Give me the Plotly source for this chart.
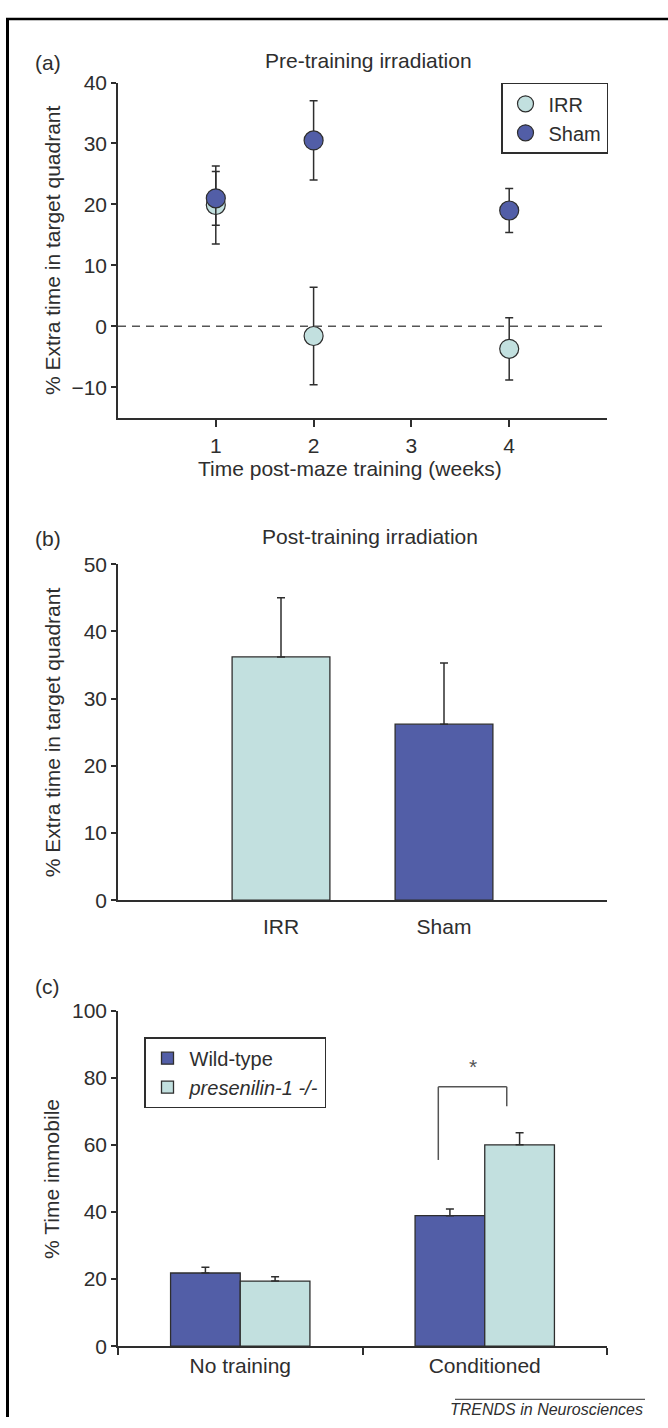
import plotly.graph_objects as go

# ---------------- data ----------------
# Panel (a): pre-training irradiation
weeks = [1, 2, 4]
week_ticks = [1, 2, 3, 4]
irr_mean = [19.9, -1.6, -3.7]
irr_err = [6.4, 8.0, 5.1]
sham_mean = [21.0, 30.5, 19.0]
sham_err = [4.4, 6.5, 3.6]

# Panel (b): post-training irradiation
groups_b = ["IRR", "Sham"]
values_b = [36.2, 26.2]
errors_b = [8.8, 9.1]

# Panel (c): % time immobile
conditions = ["No training", "Conditioned"]
wildtype = [21.8, 38.9]
wildtype_err = [1.7, 2.0]
presenilin = [19.4, 60.0]
presenilin_err = [1.3, 3.6]

# significance bracket (category-index / value units on panel c)
sig_x_left, sig_x_right = 0.81, 1.09
sig_y_top, sig_y_left, sig_y_right = 77.3, 55.5, 71.5
sig_star_x, sig_star_y = 0.95, 83.3

# ---------------- style ----------------
W, H = 668, 1428
LIGHT = "#c2e0df"
DARK = "#525ea7"
INK = "#2e2e2e"
FONT = "Liberation Sans, Arial, sans-serif"
FS = 21
LEG_FS = 20


def px_x(x):
    return x / W


def px_y(y):
    return 1 - y / H


xdom = [px_x(118), px_x(607)]
ydom_a = [px_y(412.3), px_y(71.7)]
ydom_b = [px_y(902.7), px_y(561.3)]
ydom_c = [px_y(1356), px_y(1015)]

fig = go.Figure()

err_style = dict(color=INK, thickness=1.5, width=4)

fig.add_trace(go.Scatter(
    x=weeks, y=irr_mean, mode="markers", name="IRR",
    marker=dict(size=19, color=LIGHT, line=dict(color=INK, width=1.2)),
    error_y=dict(type="data", array=irr_err, **err_style),
    xaxis="x", yaxis="y", legend="legend",
))
fig.add_trace(go.Scatter(
    x=weeks, y=sham_mean, mode="markers", name="Sham",
    marker=dict(size=19, color=DARK, line=dict(color=INK, width=1.2)),
    error_y=dict(type="data", array=sham_err, **err_style),
    xaxis="x", yaxis="y", legend="legend",
))

fig.add_trace(go.Bar(
    x=groups_b, y=values_b, width=0.6,
    marker=dict(color=[LIGHT, DARK], line=dict(color=INK, width=1.3)),
    error_y=dict(type="data", array=errors_b, arrayminus=[0] * len(errors_b),
                 symmetric=False, **err_style),
    xaxis="x2", yaxis="y2", showlegend=False,
))

fig.add_trace(go.Bar(
    x=conditions, y=wildtype, name="Wild-type",
    marker=dict(color=DARK, line=dict(color=INK, width=1.3)),
    error_y=dict(type="data", array=wildtype_err, arrayminus=[0] * len(wildtype_err),
                 symmetric=False, **err_style),
    xaxis="x3", yaxis="y3", legend="legend2",
))
fig.add_trace(go.Bar(
    x=conditions, y=presenilin, name="<i>presenilin-1 -/-</i>",
    marker=dict(color=LIGHT, line=dict(color=INK, width=1.3)),
    error_y=dict(type="data", array=presenilin_err, arrayminus=[0] * len(presenilin_err),
                 symmetric=False, **err_style),
    xaxis="x3", yaxis="y3", legend="legend2",
))

axis_common = dict(showline=True, linecolor=INK, linewidth=1.5, showgrid=False,
                   zeroline=False, ticks="outside", tickcolor=INK, tickwidth=1.5,
                   tickfont=dict(size=FS, color=INK, family=FONT), fixedrange=True)

fig.update_layout(
    width=W, height=H,
    margin=dict(l=0, r=0, t=0, b=0),
    paper_bgcolor="white", plot_bgcolor="rgba(0,0,0,0)",
    font=dict(family=FONT, size=FS, color=INK),
    hovermode=False,
    barmode="group", bargap=0.43, bargroupgap=0,
    xaxis=dict(domain=xdom, anchor="y", range=[0, 5], tickvals=week_ticks,
               ticklen=8, **axis_common),
    yaxis=dict(domain=ydom_a, anchor="x", range=[-15, 40],
               tickvals=[-10, 0, 10, 20, 30, 40], ticklen=5, **axis_common),
    xaxis2=dict(domain=xdom, anchor="y2", type="category", categoryarray=groups_b,
                range=[-1, 2], ticklen=7,
                **{**axis_common, "tickcolor": "rgba(0,0,0,0)"}),
    yaxis2=dict(domain=ydom_b, anchor="x2", range=[0, 50],
                tickvals=[0, 10, 20, 30, 40, 50], ticklen=5, **axis_common),
    xaxis3=dict(domain=xdom, anchor="y3", type="category", categoryarray=conditions,
                range=[-0.5, 1.5], tickson="boundaries", ticklen=7, **axis_common),
    yaxis3=dict(domain=ydom_c, anchor="x3", range=[0, 100],
                tickvals=[0, 20, 40, 60, 80, 100], ticklen=5, **axis_common),
    legend=dict(x=px_x(608), xanchor="right", y=px_y(72), yanchor="top",
                bordercolor=INK, borderwidth=1.5, bgcolor="white", itemwidth=36,
                font=dict(size=LEG_FS, color=INK, family=FONT)),
    legend2=dict(x=px_x(144), xanchor="left", y=px_y(1042), yanchor="top",
                 bordercolor=INK, borderwidth=1.5, bgcolor="white", itemwidth=34,
                 font=dict(size=LEG_FS, color=INK, family=FONT)),
)

# dashed zero reference line in panel (a)
fig.add_shape(type="line", xref="x", yref="y", x0=0, x1=5, y0=0, y1=0,
              line=dict(color="#555555", width=1.5, dash="8px,6px"))

# significance bracket in panel (c)
bracket = dict(color="#555555", width=1.5)
fig.add_shape(type="line", xref="x3", yref="y3", x0=sig_x_left, x1=sig_x_left,
              y0=sig_y_left, y1=sig_y_top, line=bracket)
fig.add_shape(type="line", xref="x3", yref="y3", x0=sig_x_left, x1=sig_x_right,
              y0=sig_y_top, y1=sig_y_top, line=bracket)
fig.add_shape(type="line", xref="x3", yref="y3", x0=sig_x_right, x1=sig_x_right,
              y0=sig_y_top, y1=sig_y_right, line=bracket)
fig.add_annotation(x=sig_star_x, y=sig_star_y, xref="x3", yref="y3", text="*",
                   showarrow=False, font=dict(size=FS, color="#555555"))

# frame (left and top edges)
fig.add_shape(type="line", xref="paper", yref="paper", x0=px_x(7.5), x1=px_x(7.5),
              y0=0, y1=px_y(6), line=dict(color="black", width=3))
fig.add_shape(type="line", xref="paper", yref="paper", x0=px_x(6), x1=1,
              y0=px_y(7), y1=px_y(7), line=dict(color="black", width=2.5))

# footer rule
fig.add_shape(type="line", xref="paper", yref="paper", x0=px_x(455), x1=px_x(645),
              y0=px_y(1410), y1=px_y(1410), line=dict(color=INK, width=1))


def label(text, x, y, xanchor="center", size=FS, angle=0):
    fig.add_annotation(text=text, x=px_x(x), y=px_y(y), xref="paper", yref="paper",
                       xanchor=xanchor, yanchor="middle", showarrow=False,
                       textangle=angle, font=dict(size=size, color=INK, family=FONT))


label("(a)", 33, 51, xanchor="left")
label("(b)", 33, 535, xanchor="left")
label("(c)", 33, 990, xanchor="left")
label("Pre-training irradiation", 368, 49)
label("Post-training irradiation", 369.5, 533.3)
label("Time post-maze training (weeks)", 349.5, 464)
label("% Extra time in target quadrant", 52, 242, angle=-90)
label("% Extra time in target quadrant", 52, 732, angle=-90)
label("% Time immobile", 52, 1186, angle=-90)
label("<i>TRENDS in Neurosciences</i>", 645, 1420.7, xanchor="right", size=16)

fig.write_html("out.html", config={"displayModeBar": False},
               post_script="document.body.style.margin='0';")
